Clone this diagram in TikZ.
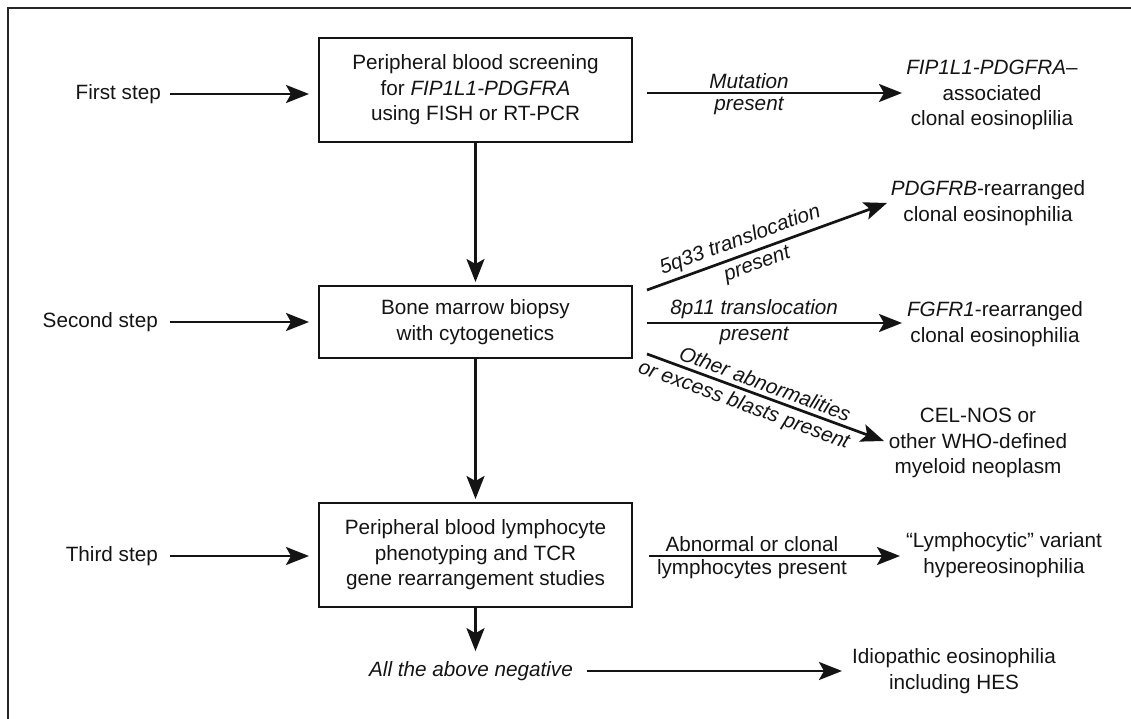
\documentclass[tikz,border=0pt]{standalone}
\usepackage{fontspec}
\setmainfont{Liberation Sans}
\usetikzlibrary{arrows.meta}
\begin{document}
\begin{tikzpicture}[x=1pt,y=-1pt,
  txt/.style={font=\fontsize{20.7}{25.5}\selectfont, align=center, inner sep=0pt, text=black!92},
  box/.style={txt, draw=black!92, line width=2pt, minimum width=313pt},
  arr/.style={draw=black!92, line width=2.7pt, -{Stealth[length=23pt,width=18pt,inset=5pt]}},
  lab/.style={txt, inner sep=2.5pt},
  ilab/.style={lab, font=\fontsize{20.7}{25.5}\selectfont\itshape},
  slab/.style={ilab, inner sep=4pt},
]
\useasboundingbox (0,0) rectangle (1131,719);
\draw[line width=2.5pt, black!85] (8,719) -- (8,8) -- (1131,8);

% boxes
\node[box, minimum height=104pt] (b1) at (475.5,90) {Peripheral blood screening\\for \textit{FIP1L1-PDGFRA}\\using FISH or RT-PCR};
\node[box, minimum height=72pt] (b2) at (475.5,322) {Bone marrow biopsy\\with cytogenetics};
\node[box, minimum height=104pt] (b3) at (475.5,555) {Peripheral blood lymphocyte\\phenotyping and TCR\\gene rearrangement studies};

% step labels
\node[txt, anchor=east] (s1) at (161,94) {First step};
\node[txt, anchor=east] (s2) at (158,322) {Second step};
\node[txt, anchor=east] (s3) at (158,556) {Third step};
\draw[arr, shorten <=9pt, shorten >=9pt] (s1.east) -- (s1.east -| b1.west);
\draw[arr, shorten <=12pt, shorten >=9pt] (s2.east) -- (s2.east -| b2.west);
\draw[arr, shorten <=12pt, shorten >=9pt] (s3.east) -- (s3.east -| b3.west);

% vertical flow
\draw[arr, shorten >=3pt] (b1.south) -- (b2.north);
\draw[arr, shorten >=3pt] (b2.south) -- (b3.north);
\node[txt, font=\fontsize{20.7}{25.5}\selectfont\itshape] (neg) at (471,671) {All the above negative};
\draw[arr, shorten >=10pt] (b3.south) -- (b3.south |- neg.north);

% outcomes
\node[txt] (r1) at (992,95) {\textit{FIP1L1-PDGFRA–}\\associated\\clonal eosinoplilia};
\node[txt] (r2) at (988,203) {\textit{PDGFRB}-rearranged\\clonal eosinophilia};
\node[txt] (r3) at (995,324) {\textit{FGFR1}-rearranged\\clonal eosinophilia};
\node[txt] (r4) at (978,443) {CEL-NOS or\\other WHO-defined\\myeloid neoplasm};
\node[txt] (r5) at (1004,555) {“Lymphocytic” variant\\hypereosinophilia};
\node[txt] (r6) at (954,671) {Idiopathic eosinophilia\\including HES};

% arrow end points
\coordinate (m1s) at (647,93);  \coordinate (m1e) at (902,93);
\coordinate (d1s) at (647,290); \coordinate (d1e) at (887,203);
\coordinate (h2s) at (647,323); \coordinate (h2e) at (902,323);
\coordinate (d3s) at (647,354); \coordinate (d3e) at (884,441);
\coordinate (h4s) at (649,556); \coordinate (h4e) at (900,556);
\coordinate (h5s) at (587,671); \coordinate (h5e) at (842,671);

\draw[arr] (m1s) -- (m1e)
  node[ilab, above, pos=0.4] (lm1) {Mutation}
  node[ilab, below, pos=0.4] (lm2) {present};
\draw[arr] (d1s) -- (d1e)
  node[slab, above, sloped, pos=0.41] (l51) {5q33 translocation}
  node[slab, below, sloped, pos=0.44] (l52) {present};
\draw[arr] (h2s) -- (h2e)
  node[ilab, above, pos=0.42] (l81) {8p11 translocation}
  node[ilab, below, pos=0.42] (l82) {present};
\draw[arr] (d3s) -- (d3e)
  node[slab, above, sloped, pos=0.48] (lo1) {Other abnormalities}
  node[slab, below, sloped, pos=0.43] (lo2) {or excess blasts present};
\draw[arr] (h4s) -- (h4e)
  node[lab, above, pos=0.41] (la1) {Abnormal or clonal}
  node[lab, below, pos=0.41] (la2) {lymphocytes present};
\draw[arr] (h5s) -- (h5e);
\end{tikzpicture}
\end{document}
